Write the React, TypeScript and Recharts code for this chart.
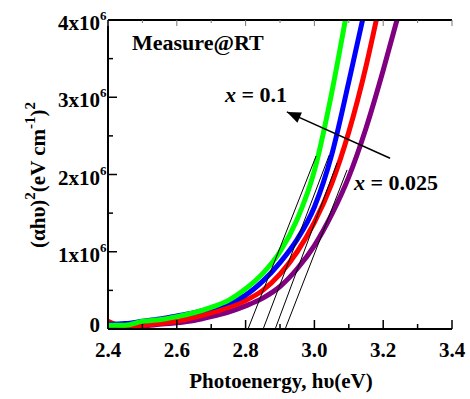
import React from 'react';
import { LineChart, Line, XAxis, YAxis } from 'recharts';

const xTicks = [2.4, 2.5, 2.6, 2.7, 2.8, 2.9, 3.0, 3.1, 3.2, 3.3, 3.4];
const yTicks = [0, 0.5e6, 1e6, 1.5e6, 2e6, 2.5e6, 3e6, 3.5e6, 4e6];

// x = 0.1 (green)
const greenE = [2.40, 2.45, 2.50, 2.55, 2.60, 2.65, 2.70, 2.75, 2.80, 2.85, 2.90, 2.95, 3.00, 3.05, 3.09];
const greenA = [0.05, 0.05, 0.10, 0.12, 0.16, 0.21, 0.28, 0.37, 0.52, 0.72, 1.0, 1.42, 2.05, 3.05, 4.0];
// blue
const blueE = [2.40, 2.45, 2.50, 2.55, 2.60, 2.65, 2.70, 2.75, 2.80, 2.85, 2.90, 2.95, 3.00, 3.05, 3.10, 3.14];
const blueA = [0.06, 0.07, 0.10, 0.13, 0.17, 0.21, 0.27, 0.34, 0.44, 0.62, 0.86, 1.16, 1.58, 2.25, 3.2, 4.0];
// red
const redE = [2.40, 2.42, 2.45, 2.50, 2.55, 2.60, 2.65, 2.70, 2.75, 2.80, 2.85, 2.90, 2.95, 3.00, 3.05, 3.10, 3.15, 3.18];
const redA = [0.10, 0.06, 0.04, 0.05, 0.07, 0.10, 0.15, 0.21, 0.28, 0.37, 0.50, 0.71, 1.0, 1.38, 1.88, 2.55, 3.4, 4.0];
// x = 0.025 (purple)
const purpleE = [2.40, 2.45, 2.50, 2.55, 2.60, 2.65, 2.70, 2.75, 2.80, 2.85, 2.90, 2.95, 3.00, 3.05, 3.10, 3.15, 3.20, 3.24];
const purpleA = [0.03, 0.03, 0.04, 0.06, 0.08, 0.11, 0.16, 0.22, 0.30, 0.40, 0.55, 0.78, 1.08, 1.48, 1.97, 2.6, 3.35, 4.0];

// tangent (Tauc) lines: [x0, x1], [y0, y1] in 1e6
const tangentE = [[2.807, 3.005], [2.851, 3.043], [2.886, 3.066], [2.915, 3.095]];
const tangentA = [[0, 2.24], [0, 2.25], [0, 2.15], [0, 2.06]];

// arrow from x = 0.025 towards x = 0.1
const arrowE = [3.22, 2.92];
const arrowA = [2.21, 2.81];

const toData = (e: number[], a: number[]) => e.map((x, i) => ({ x, y: a[i] * 1e6 }));

const greenData = toData(greenE, greenA);
const blueData = toData(blueE, blueA);
const redData = toData(redE, redA);
const purpleData = toData(purpleE, purpleA);
const tangentData = tangentE.map((e, i) => toData(e, tangentA[i]));
const arrowData = toData(arrowE, arrowA);

const FONT = '"Liberation Serif", "Times New Roman", serif';

const XTick = (props: any) => {
  const { x, y, payload } = props;
  const v = payload.value as number;
  const major = Math.round(v * 10) % 2 === 0;
  return (
    <g>
      <line x1={x} x2={x} y1={y} y2={y - (major ? 9 : 5)} stroke="#000" strokeWidth={1.5} />
      {major && (
        <text x={x} y={y + 28} textAnchor="middle" fontFamily={FONT} fontWeight="bold" fontSize={21} fill="#000">
          {v.toFixed(1)}
        </text>
      )}
    </g>
  );
};

const XTopTick = (props: any) => {
  const { x, y, payload } = props;
  const v = payload.value as number;
  const major = Math.round(v * 10) % 2 === 0;
  return <line x1={x} x2={x} y1={y} y2={y + (major ? 6 : 3)} stroke="#777" strokeWidth={1} />;
};

const YTick = (props: any) => {
  const { x, y, payload } = props;
  const v = payload.value as number;
  const major = v % 1e6 === 0;
  const n = v / 1e6;
  return (
    <g>
      <line x1={x} x2={x + (major ? 9 : 5)} y1={y} y2={y} stroke="#000" strokeWidth={1.5} />
      {major && n === 0 && (
        <text x={x - 8} y={y + 3} textAnchor="end" fontFamily={FONT} fontWeight="bold" fontSize={21} fill="#000">0</text>
      )}
      {major && n !== 0 && (
        <g>
          <text x={x - 8} y={y + 10} textAnchor="end" fontFamily={FONT} fontWeight="bold" fontSize={21} fill="#000">{`${n}x10`}</text>
          <text x={x - 8} y={y} textAnchor="start" fontFamily={FONT} fontWeight="bold" fontSize={13} fill="#000">6</text>
        </g>
      )}
    </g>
  );
};

const YRightTick = (props: any) => {
  const { x, y, payload } = props;
  const v = payload.value as number;
  const major = v % 1e6 === 0;
  return <line x1={x} x2={x - (major ? 6 : 4)} y1={y} y2={y} stroke="#555" strokeWidth={1} />;
};

const ArrowDot = (props: any) => {
  const { cx, cy, index } = props;
  if (index !== 1) return <g key={`a${index}`} />;
  return (
    <polygon
      key={`a${index}`}
      points="0,0 -14,-5.5 -14,5.5"
      fill="#000"
      transform={`translate(${cx},${cy}) rotate(204)`}
    />
  );
};

export default function App() {
  return (
    <div style={{ position: 'absolute', left: 0, top: 0 }}>
      <LineChart width={470} height={399} margin={{ top: 19, right: 18, bottom: 0, left: 0 }}>
        <XAxis
          xAxisId={0}
          dataKey="x"
          type="number"
          domain={[2.4, 3.4]}
          ticks={xTicks}
          allowDataOverflow
          height={70}
          tickSize={0}
          tickMargin={0}
          tickLine={false}
          tick={<XTick />}
          axisLine={{ stroke: '#000', strokeWidth: 2 }}
          interval={0}
        />
        <XAxis
          xAxisId="top"
          orientation="top"
          dataKey="x"
          type="number"
          domain={[2.4, 3.4]}
          ticks={xTicks}
          allowDataOverflow
          height={1}
          tickSize={0}
          tickMargin={0}
          tickLine={false}
          tick={<XTopTick />}
          axisLine={{ stroke: '#000', strokeWidth: 2 }}
          interval={0}
        />
        <YAxis
          yAxisId={0}
          type="number"
          domain={[0, 4e6]}
          ticks={yTicks}
          allowDataOverflow
          width={108}
          tickSize={0}
          tickMargin={0}
          tickLine={false}
          tick={<YTick />}
          axisLine={{ stroke: '#000', strokeWidth: 2 }}
          interval={0}
        />
        <YAxis
          yAxisId="right"
          orientation="right"
          type="number"
          domain={[0, 4e6]}
          ticks={yTicks}
          allowDataOverflow
          width={0}
          tickSize={0}
          tickMargin={0}
          tickLine={false}
          tick={<YRightTick />}
          axisLine={{ stroke: '#000', strokeWidth: 2 }}
          interval={0}
        />
        <Line data={purpleData} dataKey="y" type="monotone" stroke="#800080" strokeWidth={5} dot={false} isAnimationActive={false} />
        <Line data={redData} dataKey="y" type="monotone" stroke="#ff0000" strokeWidth={5} dot={false} isAnimationActive={false} />
        <Line data={blueData} dataKey="y" type="monotone" stroke="#0000ff" strokeWidth={5} dot={false} isAnimationActive={false} />
        <Line data={greenData} dataKey="y" type="monotone" stroke="#00ff00" strokeWidth={5} dot={false} isAnimationActive={false} />
        {tangentData.map((d, i) => (
          <Line key={`t${i}`} data={d} dataKey="y" type="linear" stroke="#000" strokeWidth={1} dot={false} isAnimationActive={false} />
        ))}
        <Line data={arrowData} dataKey="y" type="linear" stroke="#000" strokeWidth={1.5} dot={<ArrowDot />} isAnimationActive={false} />
        <text x={132} y={50} fontFamily={FONT} fontWeight="bold" fontSize={22} fill="#000">Measure@RT</text>
        <text x={225} y={102} fontFamily={FONT} fontWeight="bold" fontSize={22} fill="#000">
          <tspan fontStyle="italic">x</tspan>
          <tspan> = 0.1</tspan>
        </text>
        <text x={354} y={190} fontFamily={FONT} fontWeight="bold" fontSize={22} fill="#000">
          <tspan fontStyle="italic">x</tspan>
          <tspan> = 0.025</tspan>
        </text>
        <text x={281} y={388} textAnchor="middle" fontFamily={FONT} fontWeight="bold" fontSize={21} fill="#000">
          Photoenergy, hυ(eV)
        </text>
        <text
          x={45}
          y={175}
          textAnchor="middle"
          transform="rotate(-90 45 175)"
          fontFamily={FONT}
          fontWeight="bold"
          fontSize={21}
          fill="#000"
        >
          <tspan>(αhυ)</tspan>
          <tspan dy={-10} fontSize={15}>2</tspan>
          <tspan dy={10}>(eV cm</tspan>
          <tspan dy={-10} fontSize={15}>-1</tspan>
          <tspan dy={10}>)</tspan>
          <tspan dy={-10} fontSize={15}>2</tspan>
        </text>
      </LineChart>
    </div>
  );
}
